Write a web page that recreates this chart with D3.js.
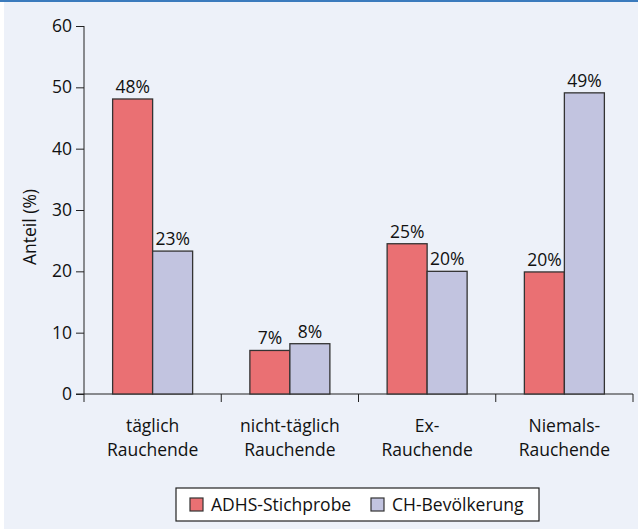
<!DOCTYPE html>
<html>
<head>
<meta charset="utf-8">
<script src="https://cdn.jsdelivr.net/npm/d3@7"></script>
<style>
	body { margin: 0; background: #ffffff; }
	svg { display: block; font-family: "Open Sans", "Noto Sans", sans-serif; }
</style>
</head>
<body>
<svg id="chart" width="638" height="530"></svg>
<script>
//Categories, each drawn on two lines
const CATEGORIES = [["täglich", "Rauchende"], ["nicht-täglich", "Rauchende"], ["Ex-", "Rauchende"], ["Niemals-", "Rauchende"]];
const SERIES = ["ADHS-Stichprobe", "CH-Bevölkerung"];
const ADHS_VALUES = [48.1, 7.1, 24.5, 19.9];
const CH_VALUES = [23.3, 8.2, 20.0, 49.1];
const ADHS_LABELS = ["48%", "7%", "25%", "20%"];
const CH_LABELS = ["23%", "8%", "20%", "49%"];
const Y_TICKS = [0, 10, 20, 30, 40, 50, 60];
const COLORS = ["#ea7073", "#c2c4e0"];
const FONT_SIZE = 17.5;

const svg = d3.select("#chart");

//Background panel with the blue top rule
svg.append("rect").attr("x", 4).attr("y", 0).attr("width", 634).attr("height", 529).attr("fill", "#edf1f9");
svg.append("rect").attr("x", 0).attr("y", 0).attr("width", 638).attr("height", 2).attr("fill", "#3b7bbd");

const PLOT_LEFT = 84, PLOT_RIGHT = 633, PLOT_TOP = 26, PLOT_BOTTOM = 394;

const x = d3.scaleBand().domain(d3.range(CATEGORIES.length)).range([PLOT_LEFT, PLOT_RIGHT]);
const xs = d3.scaleBand().domain(d3.range(SERIES.length)).range([0, 80]);
const y = d3.scaleLinear().domain([0, 60]).range([PLOT_BOTTOM, PLOT_TOP]);

//Axes
const yAxis = svg.append("g")
	.attr("transform", "translate(" + PLOT_LEFT + ",0)")
	.call(d3.axisLeft(y).tickValues(Y_TICKS).tickSize(8).tickSizeOuter(0).tickPadding(4));
yAxis.select(".domain").attr("stroke", "#222").attr("d", "M0," + PLOT_TOP + "V" + (PLOT_BOTTOM + 8));
yAxis.selectAll(".tick line").attr("stroke", "#222");
yAxis.selectAll(".tick text").attr("font-size", FONT_SIZE).attr("fill", "#111").attr("font-family", "Open Sans");

const xAxis = svg.append("g")
	.attr("transform", "translate(0," + PLOT_BOTTOM + ")")
	.call(d3.axisBottom(x).tickSize(0).tickFormat(""));
xAxis.select(".domain").attr("stroke", "#222").attr("d", "M" + (PLOT_LEFT - 8) + ",0H" + PLOT_RIGHT);

//Category separator ticks
svg.selectAll("line.sep")
	.data(d3.range(1, CATEGORIES.length + 1))
	.enter()
	.append("line")
	.attr("class", "sep")
	.attr("x1", d => PLOT_LEFT + d * x.bandwidth())
	.attr("x2", d => PLOT_LEFT + d * x.bandwidth())
	.attr("y1", PLOT_BOTTOM)
	.attr("y2", PLOT_BOTTOM + 8)
	.attr("stroke", "#222");

//Category labels
const catLabels = svg.selectAll("text.cat")
	.data(CATEGORIES)
	.enter()
	.append("text")
	.attr("class", "cat")
	.attr("text-anchor", "middle")
	.attr("font-size", FONT_SIZE)
	.attr("fill", "#111");
catLabels.each(function (d, i)
{
	const t = d3.select(this);
	d.forEach((line, k) =>
		t.append("tspan")
			.attr("x", x(i) + x.bandwidth() / 2)
			.attr("y", 432 + k * 23.5)
			.text(line));
});

//Y axis title
svg.append("text")
	.attr("transform", "translate(36,227) rotate(-90)")
	.attr("text-anchor", "middle")
	.attr("font-size", FONT_SIZE)
	.attr("fill", "#111")
	.text("Anteil (%)");

//Bars
const seriesData = [ADHS_VALUES, CH_VALUES];
const seriesLabels = [ADHS_LABELS, CH_LABELS];
seriesData.forEach((values, s) =>
{
	const offset = x.bandwidth() / 2 - 40 + xs(s);
	svg.selectAll("rect.bar" + s)
		.data(values)
		.enter()
		.append("rect")
		.attr("class", "bar" + s)
		.attr("x", (d, i) => x(i) + offset)
		.attr("y", d => y(d))
		.attr("width", xs.bandwidth())
		.attr("height", d => y(0) - y(d))
		.attr("fill", COLORS[s])
		.attr("stroke", "#333")
		.attr("stroke-width", 1.3);

	svg.selectAll("text.val" + s)
		.data(values)
		.enter()
		.append("text")
		.attr("class", "val" + s)
		.attr("x", (d, i) => x(i) + offset + xs.bandwidth() / 2)
		.attr("y", d => y(d) - 6)
		.attr("text-anchor", "middle")
		.attr("font-size", FONT_SIZE)
		.attr("fill", "#111")
		.text((d, i) => seriesLabels[s][i]);
});

//Legend
const legend = svg.append("g");
legend.append("rect")
	.attr("x", 176).attr("y", 488).attr("width", 363).attr("height", 33)
	.attr("fill", "#ffffff").attr("stroke", "#222").attr("stroke-width", 1.2);
const legendX = [190, 371];
SERIES.forEach((name, s) =>
{
	legend.append("rect")
		.attr("x", legendX[s]).attr("y", 498)
		.attr("width", 13).attr("height", 13)
		.attr("fill", COLORS[s]).attr("stroke", "#333").attr("stroke-width", 1.2);
	legend.append("text")
		.attr("x", legendX[s] + 21).attr("y", 511)
		.attr("font-size", FONT_SIZE)
		.attr("fill", "#111")
		.text(name);
});
</script>
</body>
</html>
